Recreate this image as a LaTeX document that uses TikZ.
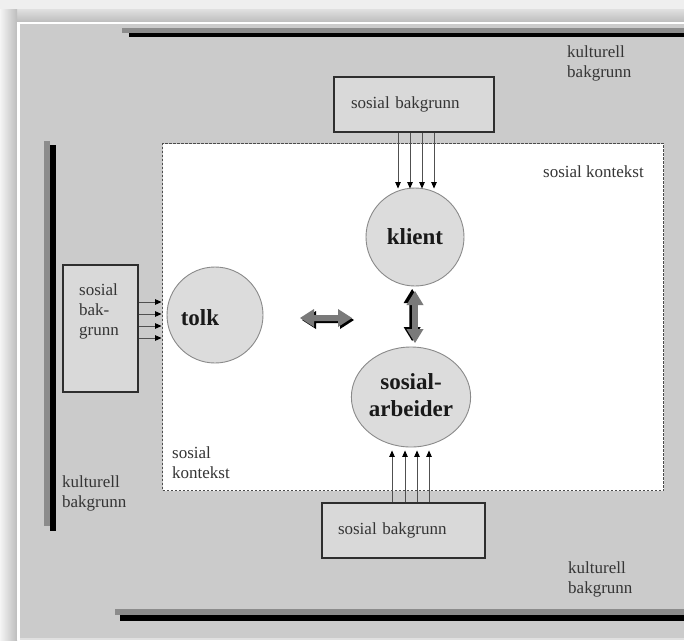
\documentclass[tikz,border=0pt]{standalone}
\usepackage{fontspec}
\setmainfont{Liberation Serif}
\usetikzlibrary{calc,arrows.meta,shapes.geometric}
\definecolor{framebg}{HTML}{EFEFEF}
\definecolor{panel}{HTML}{CBCBCB}
\definecolor{boxfill}{HTML}{D9D9D9}
\definecolor{boxline}{HTML}{2E2E2E}
\definecolor{circfill}{HTML}{DCDCDC}
\definecolor{circline}{HTML}{8A8A8A}
\definecolor{txtcol}{HTML}{353535}
\definecolor{arrline}{HTML}{505050}
\definecolor{bargray}{HTML}{8C8C8C}
\definecolor{fatgray}{HTML}{7A7A7A}
\newcommand\regtxt{\fontsize{17}{20}\selectfont}
\newcommand\boldlbl{\fontsize{23}{28}\selectfont\bfseries}
\newcommand\dblarrowpath{(-26,0) -- (-12,-9) -- (-12,-3) -- (12,-3) -- (12,-9) -- (26,0) -- (12,9) -- (12,3) -- (-12,3) -- (-12,9) -- cycle}
\begin{document}
\begin{tikzpicture}[x=1pt,y=-1pt,
  bgbox/.style={draw=boxline, line width=1.4pt, fill=boxfill, inner sep=0pt, font=\regtxt, text=txtcol, align=left},
  person/.style={circle, draw=circline, line width=0.9pt, fill=circfill, inner sep=0pt, font=\boldlbl, text=black!90, align=center},
  txt/.style={font=\regtxt, text=txtcol, inner sep=0pt, align=left},
  bundle/.style={draw=arrline, line width=0.8pt, arrows={-{Triangle[length=6.5pt,width=5.5pt,color=black]}}},
  ctxbox/.style={draw=black!70, line width=1.1pt, dash pattern=on 2.5pt off 1.5pt, fill=white, inner sep=0pt},
]
\useasboundingbox (0,0) rectangle (684,640);
% frame and shadow
\fill[framebg] (0,0) rectangle (684,640);
\shade[top color=black!12, bottom color=black!26] (0,9) rectangle (684,22);
\shade[left color=black!4, right color=black!26] (0,9) rectangle (17,640);
\fill[white] (17,22) rectangle (684,24);
\fill[white] (17,22) rectangle (20,640);
\fill[panel] (20,24) rectangle (684,638);
\fill[black!12] (20,638) rectangle (684,640);
% culture bars
\fill[bargray] (122,28) rectangle (684,32.5);
\fill[black] (129,32.5) rectangle (684,37);
\fill[bargray] (115,609) rectangle (684,615);
\fill[black] (120,615) rectangle (684,621);
\fill[bargray] (43.5,141) rectangle (49.5,526);
\fill[black] (49.5,145) rectangle (56,531);
% social context region
\node[ctxbox, minimum width=501pt, minimum height=347pt, anchor=north west] (ctx) at (162,143) {};
% boxes
\node[bgbox, minimum width=160pt, minimum height=55pt, text width=126pt] (topbox) at (414,104.5) {sosial bakgrunn};
\node[bgbox, minimum width=163pt, minimum height=55pt, text width=131pt] (botbox) at (403.5,530.5) {sosial bakgrunn};
\node[bgbox, minimum width=75pt, minimum height=127pt] (leftbox) at (100.5,328.5) {};
\node[txt, anchor=north west] (lefttxt) at (79,283.5) {sosial\\bak-\\grunn};
% persons
\node[person, minimum size=98pt] (klient) at (415,237) {klient};
\node[person, minimum size=96pt, label={[font=\boldlbl, text=black!90, xshift=-15pt, yshift=-3pt]center:tolk}] (tolk) at (215,315) {};
\node[person, shape=ellipse, minimum width=117pt, minimum height=100pt] (arbeider) at (411,397) {\raisebox{4pt}{\begin{tabular}{@{}c@{}}sosial-\\[-1pt]arbeider\end{tabular}}};
% labels
\node[txt, anchor=north west] (kultTR) at (567,45.5) {kulturell\\bakgrunn};
\node[txt, anchor=north west] (kultBR) at (568,561.5) {kulturell\\bakgrunn};
\node[txt, anchor=north west] (kultL) at (62,475) {kulturell\\bakgrunn};
\node[txt, anchor=west] (ctxTR) at (543,172) {sosial kontekst};
\node[txt, anchor=north west] (ctxBL) at (172,446.5) {sosial\\kontekst};
% influence arrows
\foreach \dx in {-17,-5,7,19}
  \draw[bundle] ($(topbox.south -| klient.north)+(\dx,0)$) -- ($(klient.north)+(\dx,1)$);
\foreach \dx in {-19,-6,6,18}
  \draw[bundle] ($(botbox.north -| arbeider.south)+(\dx,0)$) -- ($(arbeider.south)+(\dx,3)$);
\foreach \dy in {-13,-1,11,23}
  \draw[bundle] ($(leftbox.east |- tolk.center)+(0,\dy)$) -- ($(tolk.west)+(-5,\dy)$);
% interaction double arrows
\coordinate (hx) at (326,318);
\coordinate (vx) at (415,317);
\begin{scope}[shift={(hx)}]
  \fill[black] [shift={(2,2)}] \dblarrowpath;
  \fill[fatgray] \dblarrowpath;
\end{scope}
\begin{scope}[shift={(vx)}, rotate=90, yscale=0.95]
  \fill[black] [shift={(2,-3)}] \dblarrowpath;
  \fill[fatgray] \dblarrowpath;
\end{scope}
\end{tikzpicture}
\end{document}
